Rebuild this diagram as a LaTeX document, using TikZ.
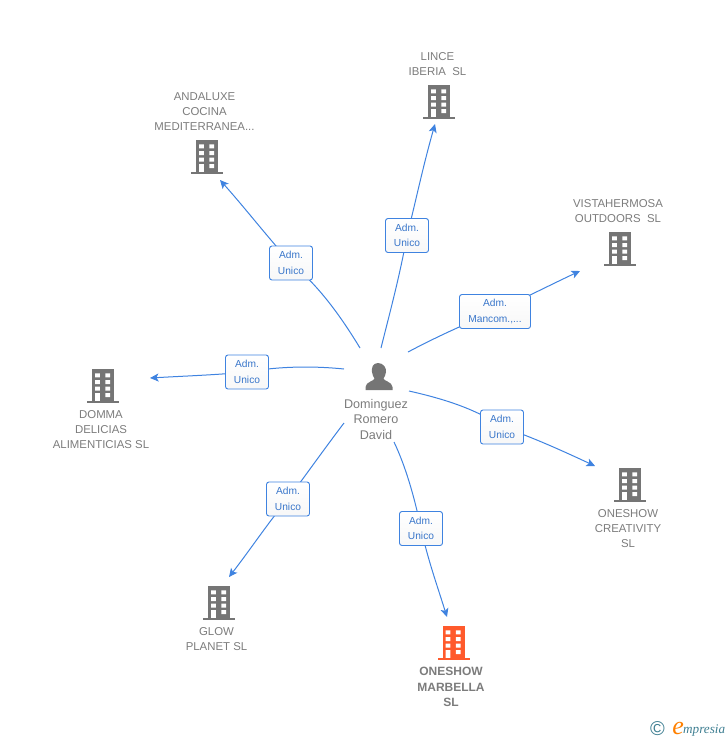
\documentclass[tikz,border=0pt]{standalone}
\usepackage{fontspec}
\setmainfont{Liberation Sans}
\newfontfamily\logofont{Liberation Serif}
\usetikzlibrary{arrows.meta,backgrounds}
\definecolor{lnk}{HTML}{3F83E0}
\definecolor{txt}{HTML}{7C7C7C}
\definecolor{bldg}{HTML}{757575}
\definecolor{hot}{HTML}{FF5A2C}
\definecolor{logoc}{HTML}{3F7F92}
\tikzset{
  x=1pt,y=-1pt,
  conn/.style={draw=lnk,line width=1pt,-{Stealth[length=8.5pt,width=8pt,inset=2pt]}},
  rolebox/.style={draw=lnk,line width=0.9pt,rounded corners=2.5pt,top color=white,bottom color=black!3,text=lnk!90!black,font=\fontsize{10.2}{15.5}\selectfont,align=center,inner sep=0pt,minimum height=34pt},
  lab/.style={text=txt,font=\fontsize{11.4}{15}\selectfont,align=center,inner sep=0pt},
  hotlab/.style={lab,font=\bfseries\fontsize{12}{15.5}\selectfont},
  person/.style={text=txt,font=\fontsize{12.6}{15.5}\selectfont,align=center,inner sep=0pt},
}
\newcommand{\bldicon}[4]{% name, centre x, bottom y, colour
  \begin{scope}[shift={(#2,#3)}]
    \coordinate (#1) at (0,-17);
    \fill[#4] (-11,-34) rectangle (11,-2.2);
    \fill[#4] (-16,-2.2) rectangle (16,0);
    \fill[white] (-7.8,-29.6) rectangle (-3.2,-25.6) (2.4,-29.6) rectangle (7,-25.6)
      (-7.8,-23) rectangle (-3.2,-19) (2.4,-23) rectangle (7,-19)
      (-7.8,-16.4) rectangle (-3.2,-12.4) (2.4,-16.4) rectangle (7,-12.4)
      (-7.8,-9.8) rectangle (-3.2,-2.2) (2.4,-9.8) rectangle (7,-5.8);
  \end{scope}}
\begin{document}
\begin{tikzpicture}
\useasboundingbox (0,0) rectangle (728,740);
% buildings
\bldicon{lince}{439}{119}{bldg}
\bldicon{anda}{207}{174}{bldg}
\bldicon{vista}{620}{266}{bldg}
\bldicon{domma}{103}{403}{bldg}
\bldicon{crea}{630}{502}{bldg}
\bldicon{glow}{219}{620}{bldg}
\bldicon{marb}{453.5}{660}{hot}
% person
\coordinate (dav) at (378,377);
\fill[bldg] (378,363) .. controls (372.5,363) and (371.5,368) .. (372,372)
  .. controls (372.3,375) and (373.5,377) .. (374.5,378.5)
  .. controls (374.5,381) and (366,381.5) .. (365.5,387) -- (365.5,390) -- (392.5,390) -- (392.5,387)
  .. controls (392,381.5) and (383.5,381) .. (383.5,378.5)
  .. controls (384.5,377) and (385.7,375) .. (386,372)
  .. controls (386.5,368) and (383.5,363) .. (378,363) -- cycle;
% labels
\node[person] (davl) at (376,419) {Dominguez\\Romero\\David};
\node[lab] (l1) at (437.5,64) {LINCE\\IBERIA\ \ SL};
\node[lab] (l2) at (204.5,111.5) {ANDALUXE\\COCINA\\MEDITERRANEA...};
\node[lab] (l3) at (618,211.5) {VISTAHERMOSA\\OUTDOORS\ \ SL};
\node[lab] (l4) at (101,430) {DOMMA\\DELICIAS\\ALIMENTICIAS SL};
\node[lab] (l5) at (628,529) {ONESHOW\\CREATIVITY\\SL};
\node[lab] (l6) at (216.5,639.5) {GLOW\\PLANET SL};
\node[hotlab] (l7) at (451,687) {ONESHOW\\MARBELLA\\SL};
% role boxes
\node[rolebox,minimum width=43pt] (b1) at (407,235.5) {Adm.\hspace{4pt}\\Unico};
\node[rolebox,minimum width=43pt] (b2) at (291,263) {Adm.\hspace{4pt}\\Unico};
\node[rolebox,minimum width=71pt] (b3) at (495,311.5) {Adm.\hspace{4pt}\\Mancom.,...};
\node[rolebox,minimum width=43pt] (b4) at (247,372) {Adm.\hspace{4pt}\\Unico};
\node[rolebox,minimum width=43pt] (b5) at (502,427) {Adm.\hspace{4pt}\\Unico};
\node[rolebox,minimum width=43pt] (b6) at (421,528.5) {Adm.\hspace{4pt}\\Unico};
\node[rolebox,minimum width=43pt] (b7) at (288,499) {Adm.\hspace{4pt}\\Unico};
% connector end points
\coordinate (s1) at (381,348); \coordinate (e1) at (435,124);
\coordinate (s2) at (360,348); \coordinate (e2) at (220,180);
\coordinate (s3) at (408,352); \coordinate (e3) at (580,271);
\coordinate (s4) at (344,369); \coordinate (e4) at (150,378);
\coordinate (s5) at (409,391); \coordinate (e5) at (595,466);
\coordinate (s6) at (394,442); \coordinate (e6) at (447,617);
\coordinate (s7) at (344,423); \coordinate (e7) at (229,577);
\begin{pgfonlayer}{background}
\draw[conn] (s1) .. controls (390,312) and (400,275) .. (b1.center) .. controls (415,205) and (422,170) .. (e1);
\draw[conn] (s2) .. controls (340,315) and (318,285) .. (b2.center) .. controls (270,240) and (245,208) .. (e2);
\draw[conn] (s3) .. controls (440,335) and (470,322) .. (b3.center) .. controls (525,298) and (550,285) .. (e3);
\draw[conn] (s4) .. controls (315,366) and (280,366) .. (b4.center) .. controls (215,375) and (185,376) .. (e4);
\draw[conn] (s5) .. controls (440,398) and (475,408) .. (b5.center) .. controls (530,436) and (565,452) .. (e5);
\draw[conn] (s6) .. controls (405,465) and (414,495) .. (b6.center) .. controls (428,560) and (437,585) .. (e6);
\draw[conn] (s7) .. controls (325,448) and (308,472) .. (b7.center) .. controls (270,520) and (250,550) .. (e7);
\end{pgfonlayer}
% logo
\node[inner sep=0pt,text=logoc,font=\fontsize{20}{20}\selectfont] (cpy) at (657.5,729) {©};
\node[inner sep=0pt,anchor=base west,font=\logofont\itshape\fontsize{13.2}{13.2}\selectfont,text=logoc] (logo) at (683,733) {mpresia};
\node[inner sep=0pt,anchor=base east,font=\logofont\itshape\fontsize{26}{26}\selectfont,text=orange] (loge) at (684,734) {e};
\end{tikzpicture}
\end{document}
